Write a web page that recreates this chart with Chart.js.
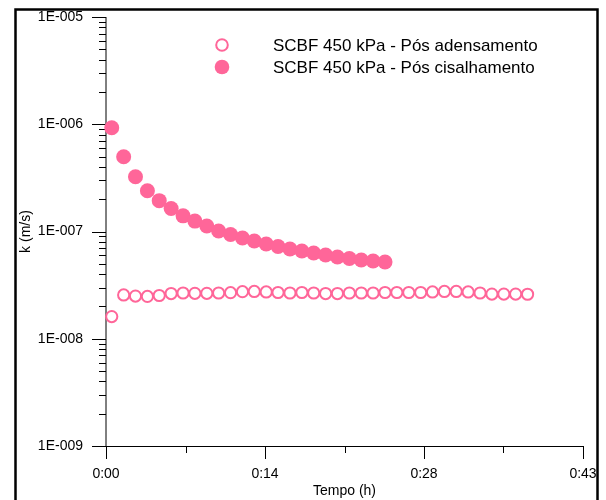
<!DOCTYPE html>
<html>
<head>
<meta charset="utf-8">
<script src="https://cdn.jsdelivr.net/npm/chart.js@4"></script>
<style>
body { margin: 0; background: #fff; }
#wrap { width: 606px; height: 500px; }
</style>
</head>
<body>
<div id="wrap"><canvas id="kChart" width="606" height="500"></canvas></div>
<script>
// tempo de cada leitura, em minutos
const times = [0.52, 1.60, 2.67, 3.75, 4.82, 5.90, 6.98, 8.05, 9.13, 10.20,
               11.28, 12.36, 13.43, 14.51, 15.58, 16.66, 17.74, 18.81, 19.89, 20.96,
               22.04, 23.12, 24.19, 25.27, 26.34, 27.42, 28.50, 29.57, 30.65, 31.72,
               32.80, 33.88, 34.95, 36.03, 37.10, 38.18];

// k (m/s) - pos adensamento (circulos vazados)
const kAdens = [1.61e-8, 2.56e-8, 2.50e-8, 2.48e-8, 2.53e-8, 2.64e-8, 2.67e-8, 2.65e-8, 2.65e-8, 2.67e-8,
                2.69e-8, 2.75e-8, 2.76e-8, 2.73e-8, 2.70e-8, 2.67e-8, 2.70e-8, 2.67e-8, 2.64e-8, 2.64e-8,
                2.67e-8, 2.67e-8, 2.67e-8, 2.70e-8, 2.70e-8, 2.70e-8, 2.70e-8, 2.73e-8, 2.76e-8, 2.76e-8,
                2.73e-8, 2.67e-8, 2.61e-8, 2.61e-8, 2.61e-8, 2.60e-8];

// k (m/s) - pos cisalhamento (circulos cheios)
const kCisal = [9.29e-7, 4.98e-7, 3.24e-7, 2.40e-7, 1.94e-7, 1.64e-7, 1.40e-7, 1.25e-7, 1.125e-7, 1.01e-7,
                9.38e-8, 8.69e-8, 8.15e-8, 7.64e-8, 7.25e-8, 6.87e-8, 6.58e-8, 6.30e-8, 6.04e-8, 5.78e-8,
                5.60e-8, 5.42e-8, 5.31e-8, 5.19e-8];

const xTicks = [0, 14.4, 28.8, 43.2];
const xTickLabels = ['0:00', '0:14', '0:28', '0:43'];
const yTicks = [1e-9, 1e-8, 1e-7, 1e-6, 1e-5];
const yTickLabels = ['1E-009', '1E-008', '1E-007', '1E-006', '1E-005'];

const pink = '#ff6699';
const fontFam = "'Liberation Sans', Arial, sans-serif";

Chart.defaults.font.family = fontFam;
Chart.defaults.color = '#000';

// eixos desenhados a mao, com ticks para fora
const axesPlugin = {
    id: 'axes',
    beforeDatasetsDraw(chart) {
        const ctx = chart.ctx;
        const xs = chart.scales.x;
        const ys = chart.scales.y;
        const a = chart.chartArea;
        ctx.save();
        ctx.strokeStyle = '#000';
        ctx.lineWidth = 1;

        // eixo y
        ctx.beginPath();
        ctx.moveTo(a.left, a.top);
        ctx.lineTo(a.left, a.bottom);
        ctx.stroke();

        ctx.beginPath();
        ctx.moveTo(a.left, a.bottom + 0.5);
        ctx.lineTo(a.right, a.bottom + 0.5);

        for (let i = 0; i < yTicks.length; i++) {
            let y = Math.round(ys.getPixelForValue(yTicks[i])) + 0.5;
            ctx.moveTo(a.left - 14, y);
            ctx.lineTo(a.left, y);
            if (i < yTicks.length - 1) {
                for (let m = 2; m <= 9; m++) {
                    y = Math.round(ys.getPixelForValue(yTicks[i] * m)) + 0.5;
                    ctx.moveTo(a.left - 7, y);
                    ctx.lineTo(a.left, y);
                }
            }
        }

        for (let i = 0; i < xTicks.length; i++) {
            let x = Math.round(xs.getPixelForValue(xTicks[i])) + 0.5;
            ctx.moveTo(x, a.bottom);
            ctx.lineTo(x, a.bottom + 13);
            if (i < xTicks.length - 1) {
                x = Math.round(xs.getPixelForValue((xTicks[i] + xTicks[i + 1]) / 2)) + 0.5;
                ctx.moveTo(x, a.bottom);
                ctx.lineTo(x, a.bottom + 7);
            }
        }
        ctx.stroke();
        ctx.restore();
    },
    afterDraw(chart) {
        const ctx = chart.ctx;
        ctx.save();
        // moldura
        ctx.strokeStyle = '#000';
        ctx.lineWidth = 2.5;
        ctx.strokeRect(15.5, 9.5, 582, 600);

        // legenda
        const rows = [45, 67];
        chart.data.datasets.forEach((ds, i) => {
            const y = rows[i];
            ctx.beginPath();
            if (i == 0) {
                ctx.arc(222, y, 5.8, 0, Math.PI * 2);
                ctx.strokeStyle = pink;
                ctx.lineWidth = 2;
                ctx.stroke();
            } else {
                ctx.arc(222, y, 7.3, 0, Math.PI * 2);
                ctx.fillStyle = pink;
                ctx.fill();
            }
            ctx.fillStyle = '#000';
            ctx.font = '17px ' + fontFam;
            ctx.textBaseline = 'middle';
            ctx.textAlign = 'left';
            ctx.fillText(ds.label, 273, y + 1);
        });
        ctx.restore();
    }
};

const ctx = document.getElementById('kChart');

new Chart(ctx, {
    type: 'scatter',
    data: {
        datasets: [{
            label: 'SCBF 450 kPa - Pós adensamento',
            data: times.map((t, i) => ({x: t, y: kAdens[i]})),
            pointRadius: 5.6,
            pointBorderWidth: 2,
            pointBackgroundColor: 'rgba(255,255,255,0)',
            pointBorderColor: pink,
            clip: false
        }, {
            label: 'SCBF 450 kPa - Pós cisalhamento',
            data: kCisal.map((k, i) => ({x: times[i], y: k})),
            pointRadius: 7.5,
            pointBorderWidth: 0,
            pointBackgroundColor: pink,
            pointBorderColor: pink,
            clip: false
        }]
    },
    options: {
        responsive: false,
        animation: false,
        events: [],
        layout: {
            padding: {top: 17, right: 23, left: 0, bottom: 0}
        },
        plugins: {
            legend: {display: false},
            tooltip: {enabled: false}
        },
        scales: {
            x: {
                type: 'linear',
                min: 0,
                max: 43.2,
                grid: {display: false, drawTicks: false},
                border: {display: false},
                afterBuildTicks: s => { s.ticks = xTicks.map(v => ({value: v})); },
                afterFit: s => { s.height = 54; s.paddingLeft = 0; s.paddingRight = 0; },
                ticks: {
                    padding: 20,
                    maxRotation: 0,
                    autoSkip: false,
                    font: {size: 14},
                    callback: (v, i) => xTickLabels[i]
                },
                title: {
                    display: true,
                    text: 'Tempo (h)',
                    font: {size: 14},
                    padding: {top: 2, bottom: 0}
                }
            },
            y: {
                type: 'logarithmic',
                min: 1e-9,
                max: 1e-5,
                grid: {display: false, drawTicks: false},
                border: {display: false},
                afterBuildTicks: s => { s.ticks = yTicks.map(v => ({value: v})); },
                afterFit: s => { s.width = 106; s.paddingTop = 0; s.paddingBottom = 0; },
                ticks: {
                    padding: 23,
                    autoSkip: false,
                    font: {size: 14},
                    callback: (v, i) => yTickLabels[i]
                },
                title: {
                    display: true,
                    text: 'k (m/s)',
                    font: {size: 14},
                    padding: {top: 18, bottom: 0}
                }
            }
        }
    },
    plugins: [axesPlugin]
});
</script>
</body>
</html>
